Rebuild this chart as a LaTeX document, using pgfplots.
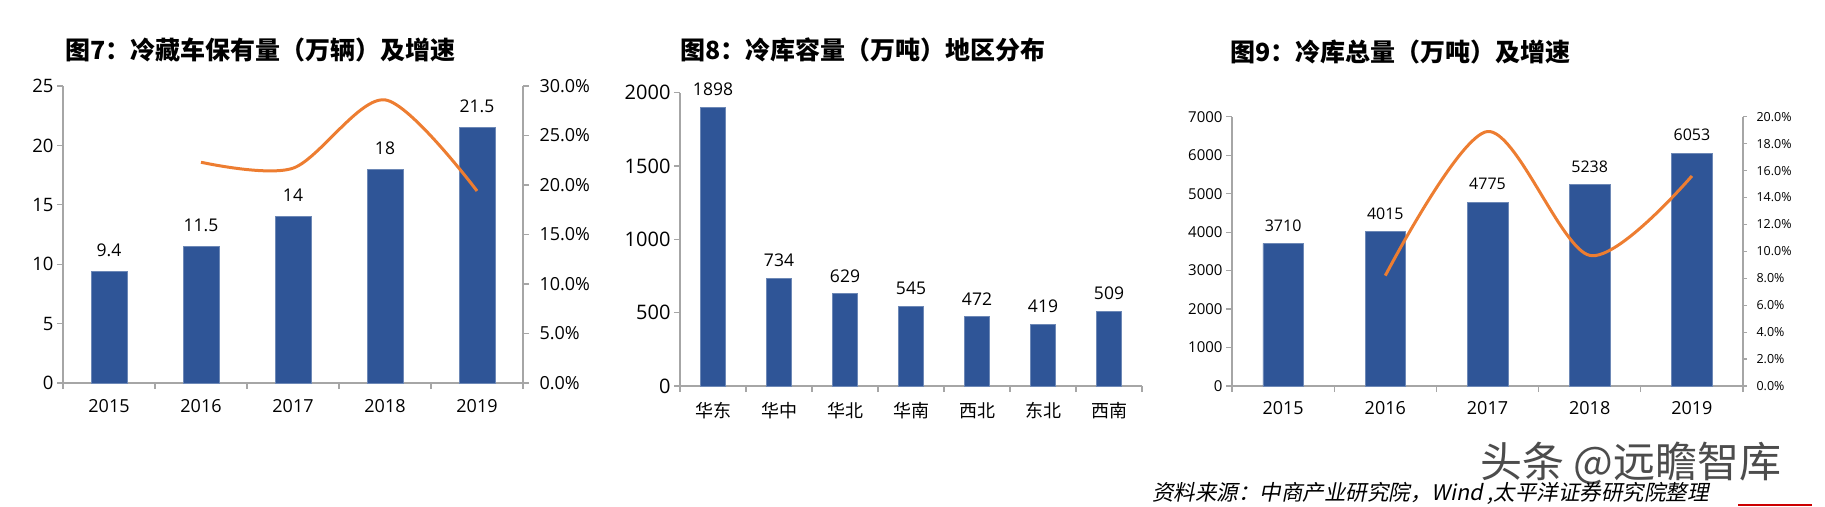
\documentclass[border=0pt]{standalone}
\usepackage{fontspec}
\setmainfont{Open Sans}
\newfontfamily\cjk{Noto Sans CJK SC}
\newfontfamily\srcfont[FakeSlant=0.2]{Noto Sans CJK SC}
\usepackage{pgfplots}
\pgfplotsset{compat=1.18}
\definecolor{barblue}{RGB}{47,85,151}
\definecolor{lineorange}{RGB}{237,125,49}
\definecolor{axgray}{RGB}{166,166,166}
\pgfplotsset{
  base/.style={
    scale only axis,
    axis line style={axgray, line width=1.2pt},
    every tick/.style={axgray, line width=1.2pt},
    major tick length=6pt, minor tick length=6pt,
    tick align=outside,
    /pgf/number format/assume math mode=true,
    /pgf/number format/1000 sep={},
    ymin=0,
    clip=false,
  },
}
\begin{document}
\begin{tikzpicture}
\path[use as bounding box] (0,0) rectangle (1825pt,-506pt);

% ---------- Panel 1 ----------
\node[anchor=west, inner sep=0, font=\cjk\fontsize{25}{28}\selectfont\bfseries] at (65pt,-50pt) {图7：冷藏车保有量（万辆）及增速};
\begin{axis}[base, at={(63pt,-383pt)}, anchor=south west, width=460pt, height=297pt,
  axis x line*=bottom, axis y line*=left,
  xmin=-0.5, xmax=4.5, ymax=25, ytick={0,5,...,25},
  xtick={0,1,2,3,4}, xticklabels={2015,2016,2017,2018,2019},
  major x tick style={draw=none},
  minor xtick={-0.5,0.5,1.5,2.5,3.5,4.5},
  yticklabel style={font=\fontsize{18.5}{20}\selectfont},
  xticklabel style={font=\fontsize{18}{20}\selectfont, yshift=-7pt},
  ybar, bar width=36pt,
  nodes near coords,
  nodes near coords style={font=\fontsize{17.5}{20}\selectfont, anchor=center, yshift=21pt, text=black},
]
\addplot[fill=barblue, draw=barblue!70!white, line width=0.6pt] coordinates {(0,9.4) (1,11.5) (2,14) (3,18) (4,21.5)};
\end{axis}
\begin{axis}[base, at={(63pt,-383pt)}, anchor=south west, width=460pt, height=297pt,
  axis y line*=right, axis x line=none,
  xmin=-0.5, xmax=4.5, ymax=30, ytick={0,5,...,30},
  yticklabel={\pgfmathprintnumber[fixed,fixed zerofill,precision=1]{\tick}\%},
  yticklabel style={font=\fontsize{18}{20}\selectfont, xshift=7pt},
]
\addplot[lineorange, line width=3pt, smooth, tension=0.5] coordinates {(1,22.3) (2,21.7) (3,28.6) (4,19.4)};
\end{axis}

% ---------- Panel 2 ----------
\node[anchor=west, inner sep=0, font=\cjk\fontsize{25}{28}\selectfont\bfseries] at (680pt,-50pt) {图8：冷库容量（万吨）地区分布};
\begin{axis}[base, at={(680pt,-386pt)}, anchor=south west, width=462pt, height=293.3pt,
  axis x line*=bottom, axis y line*=left,
  xmin=-0.5, xmax=6.5, ymax=2000, ytick={0,500,...,2000},
  xtick={0,...,6}, xticklabels={华东,华中,华北,华南,西北,东北,西南},
  major x tick style={draw=none},
  minor xtick={-0.5,0.5,...,6.5},
  yticklabel style={font=\fontsize{20}{22}\selectfont},
  xticklabel style={font=\cjk\fontsize{18}{20}\selectfont, yshift=-7pt},
  ybar, bar width=25.5pt,
  nodes near coords,
  nodes near coords style={font=\fontsize{17.5}{20}\selectfont, anchor=center, yshift=18pt, text=black},
]
\addplot[fill=barblue, draw=barblue!70!white, line width=0.6pt] coordinates {(0,1898) (1,734) (2,629) (3,545) (4,472) (5,419) (6,509)};
\end{axis}

% ---------- Panel 3 ----------
\node[anchor=west, inner sep=0, font=\cjk\fontsize{25}{28}\selectfont\bfseries] at (1230pt,-52pt) {图9：冷库总量（万吨）及增速};
\begin{axis}[base, at={(1232pt,-386pt)}, anchor=south west, width=511pt, height=269.3pt,
  axis x line*=bottom, axis y line*=left,
  xmin=-0.5, xmax=4.5, ymax=7000, ytick={0,1000,...,7000},
  xtick={0,1,2,3,4}, xticklabels={2015,2016,2017,2018,2019},
  major x tick style={draw=none},
  minor xtick={-0.5,0.5,1.5,2.5,3.5,4.5},
  yticklabel style={font=\fontsize{15}{18}\selectfont},
  xticklabel style={font=\fontsize{18}{20}\selectfont, yshift=-6pt},
  ybar, bar width=40.6pt,
  nodes near coords,
  nodes near coords style={font=\fontsize{16}{18}\selectfont, anchor=center, yshift=18pt, text=black},
]
\addplot[fill=barblue, draw=barblue!70!white, line width=0.6pt] coordinates {(0,3710) (1,4015) (2,4775) (3,5238) (4,6053)};
\end{axis}
\begin{axis}[base, at={(1232pt,-386pt)}, anchor=south west, width=511pt, height=269.3pt,
  axis y line*=right, axis x line=none,
  major tick length=4pt,
  xmin=-0.5, xmax=4.5, ymax=20, ytick={0,2,...,20},
  yticklabel={\pgfmathprintnumber[fixed,fixed zerofill,precision=1]{\tick}\%},
  yticklabel style={font=\fontsize{12.5}{15}\selectfont, xshift=6pt},
]
\addplot[lineorange, line width=3pt, smooth, tension=0.5] coordinates {(1,8.2) (2,18.9) (3,9.7) (4,15.6)};
\end{axis}

% ---------- source and watermark ----------
\node[anchor=west, inner sep=0, text=black!70, font=\cjk\fontsize{42}{44}\selectfont] at (1480pt,-463pt) {头条 @远瞻智库};
\node[anchor=west, inner sep=0, font=\srcfont\fontsize{21.5}{24}\selectfont] at (1152pt,-493pt) {资料来源：中商产业研究院，Wind ,太平洋证券研究院整理};
\draw[red!80!black, line width=2pt] (1738pt,-505pt) -- (1812pt,-505pt);
\end{tikzpicture}
\end{document}
